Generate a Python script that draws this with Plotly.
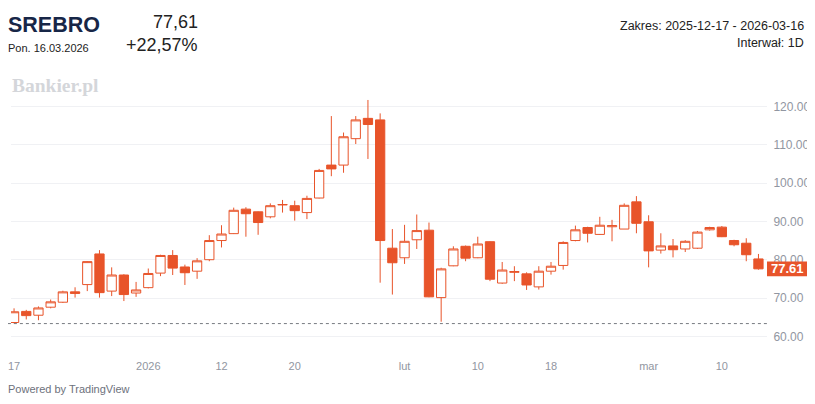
import pandas as pd
import plotly.graph_objects as go

# trading days 2025-12-17 .. 2026-03-16 (no Christmas Day)
dates = [d.strftime("%Y-%m-%d") for d in pd.bdate_range("2025-12-17", "2026-03-16")
         if d.strftime("%Y-%m-%d") != "2025-12-25"]

opens = [63.6, 66.5, 65.5, 67.6, 68.9, 71.6, 73.5, 81.5, 71.8, 76.0,
         71.3, 72.7, 76.5, 81.1, 78.1, 77.0, 80.0, 85.0, 86.8, 93.2,
         92.5, 91.2, 94.3, 94.1, 92.3, 96.1, 104.7, 104.7, 111.6, 116.9,
         116.5, 83.0, 80.5, 85.2, 87.7, 70.1, 78.4, 83.5, 80.5, 84.7,
         73.9, 76.7, 76.3, 72.9, 77.0, 78.5, 85.0, 88.4, 86.6, 88.6,
         88.0, 95.1, 89.9, 82.5, 83.6, 82.8, 83.0, 87.8, 88.5, 85.0,
         84.3, 80.2]
highs = [67.3, 66.9, 67.8, 69.6, 71.9, 72.8, 79.6, 82.5, 78.0, 76.2,
         74.2, 77.7, 81.3, 82.5, 78.7, 80.4, 86.4, 89.0, 93.6, 93.7,
         92.6, 94.7, 95.6, 95.4, 96.7, 103.7, 117.5, 113.2, 117.5, 121.7,
         118.2, 88.0, 89.1, 91.8, 89.7, 77.9, 83.5, 83.7, 86.0, 84.8,
         79.4, 78.3, 76.7, 78.3, 79.4, 84.8, 88.9, 88.6, 91.2, 90.4,
         94.7, 96.6, 91.6, 86.9, 85.4, 85.1, 87.5, 88.6, 88.8, 85.2,
         85.6, 81.5]
lows = [63.4, 64.4, 64.2, 67.3, 68.7, 70.1, 71.8, 70.1, 70.5, 69.2,
        70.3, 72.5, 75.7, 76.0, 73.4, 75.0, 79.6, 83.2, 86.7, 86.0,
        86.5, 90.8, 92.3, 90.2, 90.6, 96.0, 101.8, 102.7, 110.2, 106.3,
        74.0, 70.9, 78.9, 82.8, 70.2, 63.8, 78.3, 79.6, 80.4, 74.4,
        73.7, 74.4, 72.1, 72.2, 76.1, 77.4, 84.8, 84.5, 86.5, 84.8,
        88.0, 86.9, 78.0, 81.6, 80.6, 82.0, 82.8, 87.6, 85.9, 83.5,
        79.6, 77.4]
closes = [66.4, 65.4, 67.4, 69.0, 71.6, 71.2, 79.5, 71.4, 76.0, 70.9,
          72.1, 76.4, 81.1, 77.8, 76.6, 79.7, 85.0, 86.7, 92.9, 92.0,
          89.7, 94.1, 94.4, 92.8, 96.0, 103.3, 103.7, 112.1, 116.5, 115.3,
          85.0, 79.2, 84.8, 87.6, 70.3, 77.6, 82.8, 80.4, 84.1, 74.9,
          77.3, 76.9, 73.4, 77.0, 78.3, 84.5, 87.8, 86.9, 89.0, 88.9,
          94.2, 89.5, 82.3, 83.6, 82.6, 84.8, 87.2, 88.4, 86.0, 83.9,
          81.3, 77.61]

base_price = 63.32
last_price = 77.61

tick_dates = ["2025-12-17", "2026-01-02", "2026-01-12", "2026-01-20", "2026-02-02",
              "2026-02-10", "2026-02-18", "2026-03-02", "2026-03-10"]
tick_text = ["17", "2026", "12", "20", "lut", "10", "18", "mar", "10"]

ORANGE = "#e8542a"
GREY = "#9196a1"

# page body has an 8px margin -> keep the figure inside the window (no scrollbars)
W, H = 807, 388
PL, PR, PT, PB = 0, 759, 87, 344  # plot box in figure pixels

fig = go.Figure()
fig.add_trace(go.Candlestick(
    x=dates, open=opens, high=highs, low=lows, close=closes,
    increasing=dict(line=dict(color=ORANGE, width=1), fillcolor="white"),
    decreasing=dict(line=dict(color=ORANGE, width=1), fillcolor=ORANGE),
    showlegend=False, hoverinfo="skip",
))

# reference price line
fig.add_shape(type="line", xref="paper", x0=-0.02, x1=1, y0=base_price, y1=base_price,
              line=dict(color="#777a80", width=1, dash="dot"))

# last price tag on the price scale
tag_w = 41 / (PR - PL)
fig.add_shape(type="rect", xref="paper", x0=1, x1=1 + tag_w,
              y0=last_price - 1.95, y1=last_price + 1.95,
              fillcolor=ORANGE, line=dict(width=0), layer="above")
fig.add_annotation(xref="paper", x=1 + tag_w / 2, y=last_price, text="<b>77.61</b>",
                   showarrow=False, xanchor="center", yanchor="middle",
                   font=dict(color="white", size=13, family="Arial"))


def txt(x, y, text, size, color="#222", anchor="left", family="Arial", bold=False):
    # x, y: position in the screenshot
    fx, fy = x - 8, y - 8
    fig.add_annotation(xref="paper", yref="paper",
                       x=(fx - PL) / (PR - PL), y=(PB - fy) / (PB - PT),
                       text=f"<b>{text}</b>" if bold else text, showarrow=False,
                       xanchor=anchor, yanchor="middle",
                       font=dict(size=size, color=color, family=family))


txt(3, 25, "SREBRO", 21.5, "#172647", bold=True)
txt(3, 48, "Pon. 16.03.2026", 11)
txt(198, 22, "77,61", 18, anchor="right")
txt(198, 45, "+22,57%", 18, anchor="right")
txt(806, 26, "Zakres: 2025-12-17 - 2026-03-16", 12.5, anchor="right")
txt(806, 43, "Interwał: 1D", 12.5, anchor="right")
txt(7, 86, "Bankier.pl", 19.5, "#d4d6da", family="Liberation Serif, serif", bold=True)
txt(3, 389, "Powered by TradingView", 11, "#6d717c")

fig.update_layout(
    width=W, height=H,
    margin=dict(l=PL, r=W - PR, t=PT, b=H - PB),
    paper_bgcolor="white", plot_bgcolor="white",
    boxgap=0.2, boxgroupgap=0.05,
    xaxis=dict(type="category", range=[-0.25, 61.7], rangeslider=dict(visible=False),
               tickvals=tick_dates, ticktext=tick_text, showgrid=False, zeroline=False,
               ticks="outside", ticklen=4, tickcolor="white",
               tickfont=dict(size=11, color=GREY, family="Liberation Sans Narrow, Arial")),
    yaxis=dict(side="right", range=[55.9, 123.0], tickvals=[60, 70, 80, 90, 100, 110, 120],
               tickformat=".2f", showgrid=True, gridcolor="#f0f1f4", zeroline=False,
               ticks="outside", ticklen=3, tickcolor="white",
               tickfont=dict(size=12, color=GREY, family="Arial")),
)

fig.write_html("out.html")
